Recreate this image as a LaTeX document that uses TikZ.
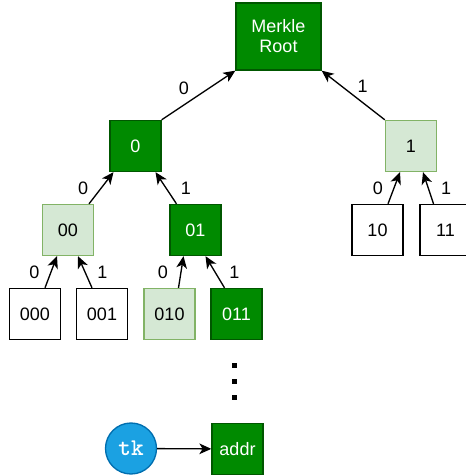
\documentclass[tikz,border=0pt]{standalone}
\usepackage{fontspec}
\setmainfont{Liberation Sans}
\usetikzlibrary{calc}
\usetikzlibrary{arrows.meta}
\definecolor{dkgreen}{HTML}{008A00}
\definecolor{dkline}{HTML}{005700}
\definecolor{ltgreen}{HTML}{D5E8D4}
\definecolor{ltline}{HTML}{82B366}
\definecolor{tkblue}{HTML}{1BA1E2}
\definecolor{tkline}{HTML}{006EAF}

\begin{document}
\begin{tikzpicture}[x=0.75pt, y=-0.75pt, line width=1pt, >={Stealth[length=9pt,width=8pt,inset=2.5pt]},
    font=\fontsize{13.5}{15}\selectfont,
    main/.style = {draw, minimum size=38.25pt, inner sep=0pt},
    dark/.style = {main, fill=dkgreen, draw=dkline, text=white},
    light/.style = {main, fill=ltgreen, draw=ltline}]
    \useasboundingbox (0,0) rectangle (465,475);
    \node[dark, minimum width=63.75pt, minimum height=50.25pt, align=center] (root) at (278.5,36.5) {Merkle\\Root};
    \node[dark] (n0) at (135.5,146) {0};
    \node[light] (n1) at (411,146) {1};
    \node[light] (n00) at (68,230) {00};
    \node[dark] (n01) at (195.5,230) {01};
    \node[main] (n10) at (377.5,230) {10};
    \node[main] (n11) at (445.5,230) {11};
    \node[main] (n000) at (35,314) {000};
    \node[main] (n001) at (102,314) {001};
    \node[light] (n010) at (169.5,314) {010};
    \node[dark] (n011) at (236.5,314) {011};
    \node[dark] (addr) at (237.5,449) {addr};
    \node[main, circle, fill=tkblue, draw=tkline, text=white, font=\fontsize{18}{18}\selectfont\ttfamily\bfseries] (tk) at (131,448.5) {tk};
    \draw[->] (n0.north east) to node[xshift=-11pt, yshift=5pt] {0} (root.south west);
    \draw[->] (n1.north west) to node[xshift=7pt, yshift=7pt] {1} (root.south east);
    \draw[->] ($(n00.north)+(21,0)$) to node[xshift=-13.5pt] {0} ($(n0.south)+(-22,0)$);
    \draw[->] ($(n01.north)+(-19,0)$) to node[xshift=15pt] {1} ($(n0.south)+(20,0)$);
    \draw[->] ($(n10.north)+(10.5,0)$) to node[xshift=-12pt] {0} ($(n1.south)+(-11,0)$);
    \draw[->] ($(n11.north)+(-12,0)$) to node[xshift=13.5pt] {1} ($(n1.south)+(12,0)$);
    \draw[->] ($(n000.north)+(10,0)$) to node[xshift=-12.5pt] {0} ($(n00.south)+(-11,0)$);
    \draw[->] ($(n001.north)+(-10,0)$) to node[xshift=13pt] {1} ($(n00.south)+(10,0)$);
    \draw[->] ($(n010.north)+(9,0)$) to node[xshift=-13.5pt] {0} ($(n01.south)+(-12,0)$);
    \draw[->] ($(n011.north)+(-12,0)$) to node[xshift=14.5pt] {1} ($(n01.south)+(10,0)$);
    \draw[->] (tk) -- (addr);
    \foreach \y in {365,381.5,397}
        \fill (231.5,\y-2.5) rectangle +(5,5);
\end{tikzpicture}
\end{document}
